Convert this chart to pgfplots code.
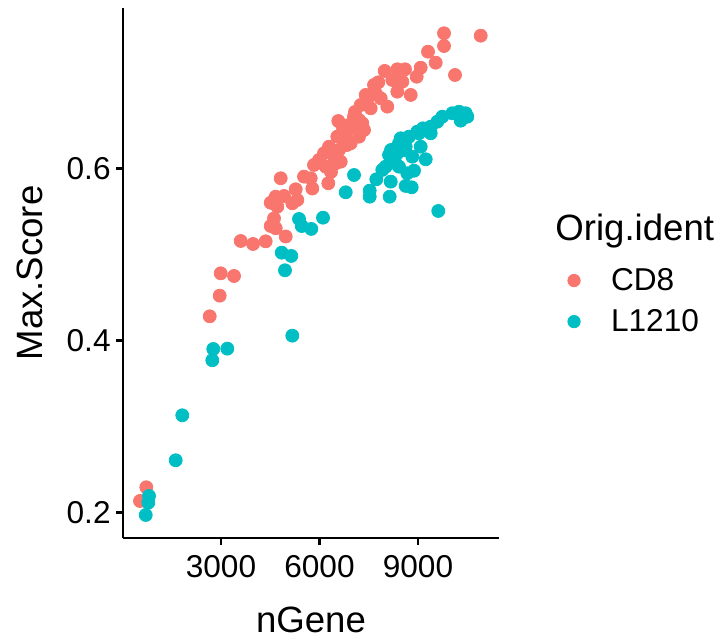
\documentclass[border=0pt]{standalone}
\usepackage{pgfplots}
\pgfplotsset{compat=1.18}
\usepackage{fontspec}
\setmainfont{Liberation Sans}
\definecolor{cdred}{HTML}{F8766D}
\definecolor{lteal}{HTML}{00BFC4}
\begin{document}
\begin{tikzpicture}
\useasboundingbox (-61.5pt,-50.5pt) rectangle (299pt,269pt);
\begin{axis}[
  scale only axis,
  width=188pt, height=265pt,
  xmin=15, xmax=11467, ymin=0.1703, ymax=0.7866,
  axis x line*=bottom, axis y line*=left,
  axis line style={line width=1.4pt, -},
  scaled x ticks=false, scaled y ticks=false,
  xtick={3000,6000,9000}, ytick={0.2,0.4,0.6},
  xticklabels={3000,6000,9000},
  yticklabels={0.2,0.4,0.6},
  tick style={line width=1.4pt, black},
  tick align=outside, major tick length=3.5pt,
  ticklabel style={font=\fontsize{15.8}{18}\selectfont, text=black, inner sep=0pt},
  xticklabel style={anchor=north, yshift=-5pt},
  yticklabel style={anchor=east, xshift=-2.5pt},
  xlabel={nGene}, ylabel={Max.Score},
  label style={font=\fontsize{18.3}{22}\selectfont, inner sep=0pt},
  xlabel style={at={(axis description cs:0.5,0)}, anchor=base, yshift=-47pt},
  ylabel style={at={(axis description cs:-0.2128,0.5)}, anchor=south},
  legend style={at={(axis description cs:1.165,0.447)}, anchor=west, draw=none, fill=none,
    font=\fontsize{15.8}{18}\selectfont, row sep=4pt,
    legend cell align=left},
  legend image code/.code={\path[draw=none,fill=none] (-3.25pt,0) -- (16.5pt,0); \fill[#1] (0pt,0pt) circle (3.1pt);},
  clip=false,
]
\addplot[only marks, mark=*, mark size=3.25pt, color=cdred, mark options={draw=none,fill=cdred}] coordinates {
(533,0.2134)(725,0.2293)(2656,0.4281)(2960,0.4521)(2991,0.4781)(3396,0.475)
(3600,0.5157)(3975,0.5122)(4361,0.5153)(4971,0.5209)(4614,0.5419)(4514,0.5331)
(4666,0.5305)(4514,0.5602)(4715,0.5556)(4666,0.5672)(4919,0.5680)(4818,0.5886)
(5172,0.5595)(5324,0.5634)(5275,0.5758)(5528,0.5905)(5732,0.5886)(5781,0.5767)
(5833,0.6041)(6189,0.6021)(6289,0.6021)(6493,0.6060)(6268,0.5828)(6137,0.6177)
(6442,0.6137)(6646,0.6079)(6289,0.6253)(6594,0.6215)(6542,0.6370)(6950,0.6293)
(6798,0.6409)(6999,0.6467)(7203,0.6370)(7304,0.6526)(6573,0.6552)(7051,0.6602)
(7203,0.6564)(7255,0.6738)(7559,0.6700)(8065,0.6719)(7407,0.6855)(7712,0.6874)
(7864,0.6816)(7791,0.7002)(8217,0.7029)(8370,0.6893)(8522,0.7009)(8778,0.6855)
(7986,0.7134)(8370,0.7153)(8604,0.7153)(8960,0.7067)(9082,0.7172)(9305,0.7358)
(9539,0.7230)(9792,0.7424)(9792,0.7572)(10127,0.7087)(10910,0.7544)(5985,0.6099)
(6746,0.6331)(6898,0.6506)(7447,0.6797)(7660,0.6971)(6350,0.5959)(6716,0.6471)
(7081,0.6657)(6837,0.6273)(7355,0.6448)
};
\addlegendentry{CD8}
\addplot[only marks, mark=*, mark size=3.25pt, color=lteal, mark options={draw=none,fill=lteal}] coordinates {
(707,0.1971)(786,0.2114)(807,0.2192)(1620,0.2607)(1821,0.3130)(2735,0.3770)
(2765,0.3901)(3192,0.3905)(5172,0.4056)(4949,0.4816)(4849,0.5021)(5141,0.4983)
(5376,0.5413)(5458,0.5331)(5750,0.5297)(6107,0.5428)(6798,0.5723)(7051,0.5924)
(7529,0.5742)(7529,0.5672)(8138,0.5672)(7730,0.5874)(8169,0.5847)(8625,0.5797)
(8808,0.5781)(9618,0.5506)(8016,0.6021)(8321,0.6060)(8421,0.6021)(8674,0.5944)
(8878,0.5974)(8117,0.6157)(8370,0.6177)(8826,0.6137)(9235,0.6107)(8421,0.6293)
(8625,0.6253)(9082,0.6253)(8473,0.6351)(8726,0.6370)(8979,0.6428)(9152,0.6467)
(9387,0.6486)(9387,0.6409)(9588,0.6544)(9740,0.6602)(10045,0.6642)(10249,0.6660)
(10453,0.6642)(10502,0.6602)(10300,0.6556)(8178,0.6215)(7913,0.5983)(8217,0.6099)
(8574,0.6215)(9030,0.6409)
};
\addlegendentry{L1210}
\node[anchor=base west, font=\fontsize{18.3}{22}\selectfont, inner sep=0pt]
  at (axis description cs:1.149,0.562) {Orig.ident};
\end{axis}
\end{tikzpicture}
\end{document}
